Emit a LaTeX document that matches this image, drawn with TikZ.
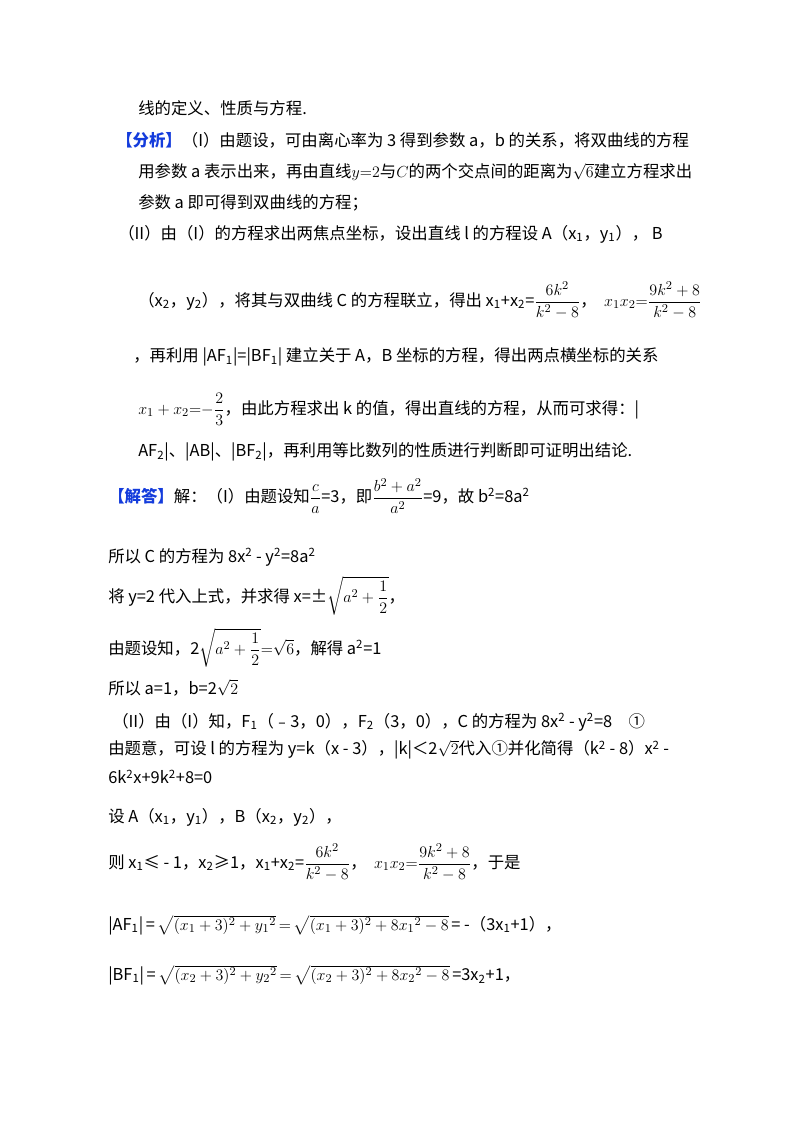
\documentclass[tikz,border=0pt]{standalone}
\usepackage{amsmath}
\usepackage{fontspec}
\setmainfont{Noto Sans CJK SC}
\definecolor{hd}{RGB}{20,60,220}
\begin{document}
\begin{tikzpicture}[x=0.75pt,y=-0.75pt,
  ln/.style={anchor=west,inner sep=0pt,font=\fontsize{12.3pt}{14pt}\selectfont}]
\useasboundingbox (0,0) rectangle (800,1132);
\node[ln] (l1) at (138,108) {线的定义、性质与方程.};
\node[ln] (l2) at (116,140) {{\color{hd}\bfseries【分析】}（I）由题设，可由离心率为 3 得到参数 a，b 的关系，将双曲线的方程};
\node[ln] (l3) at (138,172) {用参数 a 表示出来，再由直线$y{=}2$与$C$的两个交点间的距离为$\sqrt{6}$建立方程求出};
\node[ln] (l4) at (138,203) {参数 a 即可得到双曲线的方程；};
\node[ln] (l5) at (118,234) {（II）由（I）的方程求出两焦点坐标，设出直线 l 的方程设 A（x\textsubscript{1}，y\textsubscript{1}），\ B};
\node[ln] (l6) at (138,300) {（x\textsubscript{2}，y\textsubscript{2}），将其与双曲线 C 的方程联立，得出 x\textsubscript{1}+x\textsubscript{2}=$\dfrac{6k^2}{k^2-8}$，\ \ $x_1x_2{=}\dfrac{9k^2+8}{k^2-8}$};
\node[ln] (l7) at (133,357) {，再利用 |AF\textsubscript{1}|=|BF\textsubscript{1}| 建立关于 A，B 坐标的方程，得出两点横坐标的关系};
\node[ln] (l8) at (138,409) {$x_1+x_2{=}{-}\dfrac{2}{3}$，由此方程求出 k 的值，得出直线的方程，从而可求得：|};
\node[ln] (l9) at (138,452) {AF\textsubscript{2}|、|AB|、|BF\textsubscript{2}|，再利用等比数列的性质进行判断即可证明出结论.};
\node[ln] (l10) at (108,496) {{\color{hd}\bfseries【解答】}解：（I）由题设知$\dfrac{c}{a}$=3，即$\dfrac{b^2+a^2}{a^2}$=9，故 b\textsuperscript{2}=8a\textsuperscript{2}};
\node[ln] (l11) at (108,557) {所以 C 的方程为 8x\textsuperscript{2} - y\textsuperscript{2}=8a\textsuperscript{2}};
\node[ln] (l12) at (108,596) {将 y=2 代入上式，并求得 x=±$\sqrt{a^2+\dfrac12}$，};
\node[ln] (l13) at (108,648) {由题设知，2$\sqrt{a^2+\dfrac12}{=}\sqrt{6}$，解得 a\textsuperscript{2}=1};
\node[ln] (l14) at (108,688) {所以 a=1，b=2$\sqrt{2}$};
\node[ln] (l15) at (112,722) {（II）由（I）知，F\textsubscript{1}（﹣3，0），F\textsubscript{2}（3，0），C 的方程为 8x\textsuperscript{2} - y\textsuperscript{2}=8\quad ①};
\node[ln] (l16) at (108,750) {由题意，可设 l 的方程为 y=k（x - 3），|k|＜2$\sqrt{2}$代入①并化简得（k\textsuperscript{2} - 8）x\textsuperscript{2} -};
\node[ln] (l17) at (108,777) {6k\textsuperscript{2}x+9k\textsuperscript{2}+8=0};
\node[ln] (l18) at (108,817) {设 A（x\textsubscript{1}，y\textsubscript{1}），B（x\textsubscript{2}，y\textsubscript{2}），};
\node[ln] (l19) at (108,862) {则 x\textsubscript{1}≤ - 1，x\textsubscript{2}≥1，x\textsubscript{1}+x\textsubscript{2}=$\dfrac{6k^2}{k^2-8}$，\ \ $x_1x_2{=}\dfrac{9k^2+8}{k^2-8}$，于是};
\node[ln] (l20) at (108,925) {|AF\textsubscript{1}|\,=\,$\sqrt{(x_1+3)^2+y_1{}^{2}}\,{=}\,\sqrt{(x_1+3)^2+8x_1{}^{2}-8}$\,= -（3x\textsubscript{1}+1），};
\node[ln] (l21) at (108,975) {|BF\textsubscript{1}|\,=\,$\sqrt{(x_2+3)^2+y_2{}^{2}}\,{=}\,\sqrt{(x_2+3)^2+8x_2{}^{2}-8}$\,=3x\textsubscript{2}+1，};
\end{tikzpicture}
\end{document}
